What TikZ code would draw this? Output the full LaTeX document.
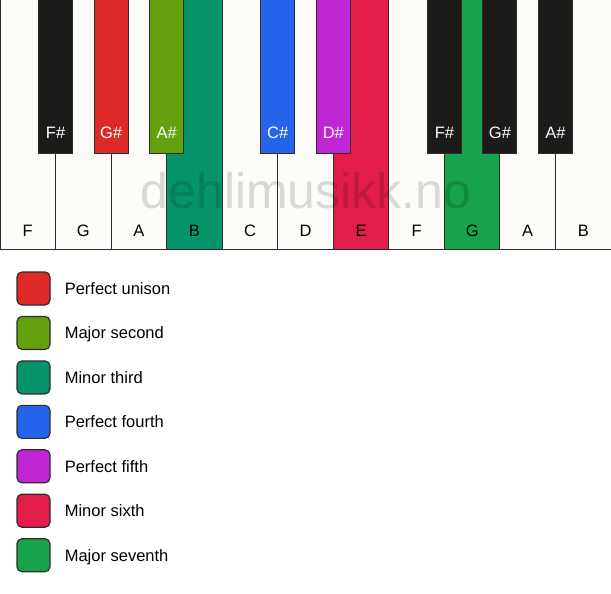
\documentclass[tikz,border=0pt]{standalone}
\usepackage{fontspec}
\setmainfont{Liberation Sans}
\usepackage{tikz}
\usepackage{xcolor}
\usetikzlibrary{positioning}

\definecolor{keywhite}{RGB}{254,252,248}
\definecolor{keyblack}{RGB}{28,27,25}
\definecolor{keyline}{RGB}{45,45,45}
\definecolor{unisonred}{RGB}{222,42,39}
\definecolor{secondgreen}{RGB}{99,160,14}
\definecolor{thirdteal}{RGB}{5,148,105}
\definecolor{fourthblue}{RGB}{37,99,235}
\definecolor{fifthpurple}{RGB}{192,38,211}
\definecolor{sixthcrimson}{RGB}{225,29,72}
\definecolor{seventhgreen}{RGB}{22,163,74}

\begin{document}
\begin{tikzpicture}[x=1pt,y=1pt,
    whitekey/.style={draw=keyline, line width=1pt, fill=keywhite, minimum width=55.55pt, minimum height=249pt, inner sep=0pt},
    blackkey/.style={draw=keyline, line width=1pt, fill=keyblack, minimum width=34pt, minimum height=153pt, inner sep=0pt},
    notename/.style={font=\fontsize{16.5}{18}\selectfont, inner sep=0pt, text height=12pt, text depth=0pt},
    swatch/.style={draw=keyline, line width=1.2pt, rounded corners=5pt, minimum size=33pt, inner sep=0pt},
    legendtext/.style={font=\fontsize{16.5}{18}\selectfont, inner sep=0pt, text height=12pt, text depth=0pt, right=14pt of #1},
    watermark/.style={font=\fontsize{50}{52}\selectfont, text=black, text opacity=0.14, inner sep=0pt, anchor=base}]
                % Page size
                \path[fill=white, use as bounding box] (0,0) rectangle (611,-594);

                % White keys
                \node[whitekey] (kF1) at (27.78,-124.5) {};
                \node[whitekey] (kG1) at (83.33,-124.5) {};
                \node[whitekey] (kA1) at (138.88,-124.5) {};
                \node[whitekey, fill=thirdteal] (kB1) at (194.43,-124.5) {};
                \node[whitekey] (kC) at (249.98,-124.5) {};
                \node[whitekey] (kD) at (305.53,-124.5) {};
                \node[whitekey, fill=sixthcrimson] (kE) at (361.08,-124.5) {};
                \node[whitekey] (kF2) at (416.63,-124.5) {};
                \node[whitekey, fill=seventhgreen] (kG2) at (472.18,-124.5) {};
                \node[whitekey] (kA2) at (527.73,-124.5) {};
                \node[whitekey] (kB2) at (583.28,-124.5) {};

                % White key names
                \node[notename, above=13pt of kF1.south] (nF1) {F};
                \node[notename, above=13pt of kG1.south] (nG1) {G};
                \node[notename, above=13pt of kA1.south] (nA1) {A};
                \node[notename, above=13pt of kB1.south] (nB1) {B};
                \node[notename, above=13pt of kC.south] (nC) {C};
                \node[notename, above=13pt of kD.south] (nD) {D};
                \node[notename, above=13pt of kE.south] (nE) {E};
                \node[notename, above=13pt of kF2.south] (nF2) {F};
                \node[notename, above=13pt of kG2.south] (nG2) {G};
                \node[notename, above=13pt of kA2.south] (nA2) {A};
                \node[notename, above=13pt of kB2.south] (nB2) {B};

                % Black keys
                \node[blackkey] (kFs1) at (55.55,-76.5) {};
                \node[blackkey, fill=unisonred] (kGs1) at (111.1,-76.5) {};
                \node[blackkey, fill=secondgreen] (kAs1) at (166.65,-76.5) {};
                \node[blackkey, fill=fourthblue] (kCs) at (277.75,-76.5) {};
                \node[blackkey, fill=fifthpurple] (kDs) at (333.3,-76.5) {};
                \node[blackkey] (kFs2) at (444.4,-76.5) {};
                \node[blackkey] (kGs2) at (499.95,-76.5) {};
                \node[blackkey] (kAs2) at (555.5,-76.5) {};

                % Black key names
                \node[notename, text=white, above=14.5pt of kFs1.south] (nFs1) {F\#};
                \node[notename, text=white, above=14.5pt of kGs1.south] (nGs1) {G\#};
                \node[notename, text=white, above=14.5pt of kAs1.south] (nAs1) {A\#};
                \node[notename, text=white, above=14.5pt of kCs.south] (nCs) {C\#};
                \node[notename, text=white, above=14.5pt of kDs.south] (nDs) {D\#};
                \node[notename, text=white, above=14.5pt of kFs2.south] (nFs2) {F\#};
                \node[notename, text=white, above=14.5pt of kGs2.south] (nGs2) {G\#};
                \node[notename, text=white, above=14.5pt of kAs2.south] (nAs2) {A\#};

                % Watermark
                \node[watermark] (wm) at (306,-208) {dehlimusikk.no};

                % Legend
                \node[swatch, fill=unisonred] (sUnison) at (33.5,-288.5) {};
                \node[swatch, fill=secondgreen] (sSecond) at (33.5,-332.95) {};
                \node[swatch, fill=thirdteal] (sThird) at (33.5,-377.4) {};
                \node[swatch, fill=fourthblue] (sFourth) at (33.5,-421.85) {};
                \node[swatch, fill=fifthpurple] (sFifth) at (33.5,-466.3) {};
                \node[swatch, fill=sixthcrimson] (sSixth) at (33.5,-510.75) {};
                \node[swatch, fill=seventhgreen] (sSeventh) at (33.5,-555.2) {};
                \node[legendtext=sUnison] (tUnison) {Perfect unison};
                \node[legendtext=sSecond] (tSecond) {Major second};
                \node[legendtext=sThird] (tThird) {Minor third};
                \node[legendtext=sFourth] (tFourth) {Perfect fourth};
                \node[legendtext=sFifth] (tFifth) {Perfect fifth};
                \node[legendtext=sSixth] (tSixth) {Minor sixth};
                \node[legendtext=sSeventh] (tSeventh) {Major seventh};
            \end{tikzpicture}
\end{document}
